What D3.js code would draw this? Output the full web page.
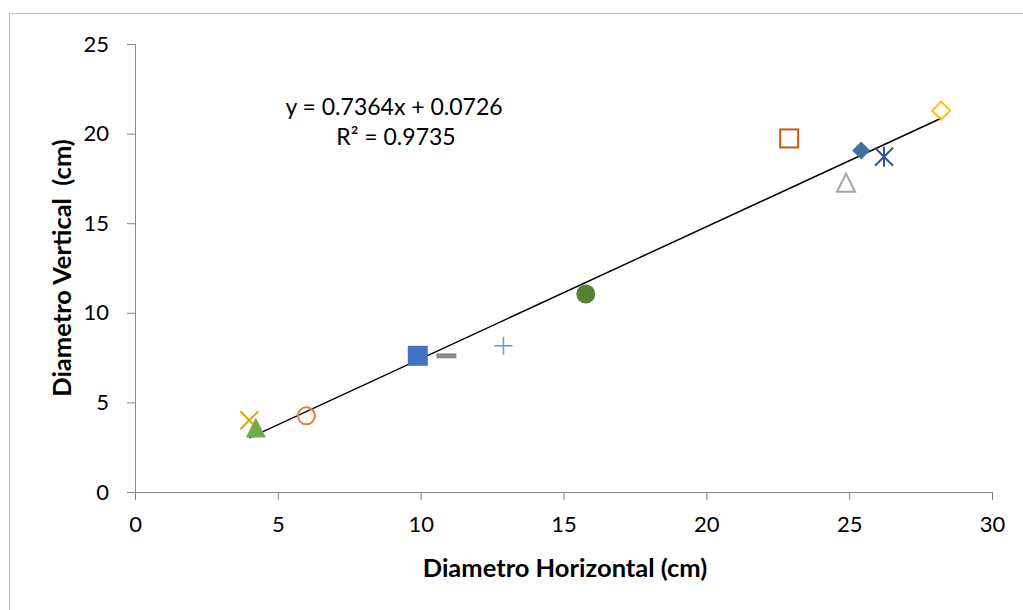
<!DOCTYPE html>
<html>
<head>
<meta charset="utf-8">
<script src="https://cdn.jsdelivr.net/npm/d3@7"></script>
<style>
  body { margin: 0; background: #fff; }
  text { font-family: Lato, "Open Sans", sans-serif; fill: #000; }
</style>
</head>
<body>
<div id="chart"></div>
<script>
// data
const xValues = [4.0, 4.23, 6.0, 9.9, 10.9, 12.9, 15.78, 22.9, 24.89, 25.42, 26.22, 28.22];
const yValues = [4.0, 3.6, 4.25, 7.6, 7.6, 8.16, 11.05, 19.73, 17.26, 19.05, 18.71, 21.28];
const markerKinds = ["x", "triangle", "circleOpen", "square", "dash", "plus", "circle", "squareOpen", "triangleOpen", "diamond", "star", "diamondOpen"];
const markerColors = ["#D9A20F", "#70AD47", "#ED7D31", "#4472C4", "#8C8C8C", "#5B9BD5", "#548235", "#C55A11", "#A5A5A5", "#41719C", "#2F5597", "#FFC000"];
const xTicks = [0, 5, 10, 15, 20, 25, 30];
const yTicks = [0, 5, 10, 15, 20, 25];
const slope = 0.7364, intercept = 0.0726;
const equationLines = ["y = 0.7364x + 0.0726", "R² = 0.9735"];

const svgWidth = 1023, svgHeight = 610;
const margin = {top: 44, right: 31, bottom: 118, left: 135};
const width = svgWidth - margin.left - margin.right;
const height = svgHeight - margin.top - margin.bottom;

const svg = d3.select("#chart").append("svg")
  .attr("width", svgWidth)
  .attr("height", svgHeight);

// outer chart border
svg.append("rect")
  .attr("x", 9.5).attr("y", 13.5)
  .attr("width", 1100).attr("height", 700)
  .attr("fill", "none").attr("stroke", "#BFBFBF");

const g = svg.append("g").attr("transform", `translate(${margin.left},${margin.top})`);

const x = d3.scaleLinear().domain([0, 30]).range([0, width]);
const y = d3.scaleLinear().domain([0, 25]).range([height, 0]);

const xAxis = g.append("g")
  .attr("transform", `translate(0,${height})`)
  .call(d3.axisBottom(x).tickValues(xTicks).tickSize(8).tickPadding(16).tickSizeOuter(8));
const yAxis = g.append("g")
  .call(d3.axisLeft(y).tickValues(yTicks).tickSize(8).tickPadding(18).tickSizeOuter(8));

[xAxis, yAxis].forEach(a => {
  a.selectAll("path, line").attr("stroke", "#868686");
  a.selectAll("text").style("font-size", "22px").attr("fill", "#000");
});

// trendline over data range
const xMin = d3.min(xValues), xMax = d3.max(xValues);
g.append("line")
  .attr("x1", x(xMin)).attr("y1", y(slope * xMin + intercept))
  .attr("x2", x(xMax)).attr("y2", y(slope * xMax + intercept))
  .attr("stroke", "#000").attr("stroke-width", 1.5);

// markers
const pts = xValues.map((v, i) => ({x: v, y: yValues[i], kind: markerKinds[i], color: markerColors[i]}));
pts.forEach(p => {
  const m = g.append("g").attr("transform", `translate(${x(p.x)},${y(p.y)})`);
  const c = p.color;
  switch (p.kind) {
    case "x":
      m.append("path").attr("d", "M-9,-9L9,9M-9,9L9,-9").attr("stroke", c).attr("stroke-width", 2);
      break;
    case "triangle":
      m.append("path").attr("d", "M0,-10L10,10L-10,10Z").attr("fill", c);
      break;
    case "triangleOpen":
      m.append("path").attr("d", "M0,-9L9,9L-9,9Z").attr("fill", "none").attr("stroke", c).attr("stroke-width", 2);
      break;
    case "circleOpen":
      m.append("circle").attr("r", 8.5).attr("fill", "none").attr("stroke", c).attr("stroke-width", 2);
      break;
    case "circle":
      m.append("circle").attr("r", 9.5).attr("fill", c);
      break;
    case "square":
      m.append("rect").attr("x", -10).attr("y", -10).attr("width", 20).attr("height", 20).attr("fill", c);
      break;
    case "squareOpen":
      m.append("rect").attr("x", -9).attr("y", -9).attr("width", 18).attr("height", 18).attr("fill", "none").attr("stroke", c).attr("stroke-width", 2);
      break;
    case "dash":
      m.append("rect").attr("x", -10).attr("y", -2.5).attr("width", 20).attr("height", 5).attr("fill", c);
      break;
    case "plus":
      m.append("path").attr("d", "M-9,0L9,0M0,-9L0,9").attr("stroke", c).attr("stroke-width", 1.5);
      break;
    case "diamond":
      m.append("path").attr("d", "M0,-9L9,0L0,9L-9,0Z").attr("fill", c);
      break;
    case "diamondOpen":
      m.append("path").attr("d", "M0,-9L9,0L0,9L-9,0Z").attr("fill", "none").attr("stroke", c).attr("stroke-width", 2);
      break;
    case "star":
      m.append("path").attr("d", "M-9,-9L9,9M-9,9L9,-9M0,-10L0,10").attr("stroke", c).attr("stroke-width", 2);
      break;
  }
});

// regression equation
g.append("text")
  .attr("x", 394 - margin.left).attr("y", 115 - margin.top)
  .attr("text-anchor", "middle").style("font-size", "23px")
  .text(equationLines[0]);
g.append("text")
  .attr("x", 396 - margin.left).attr("y", 145 - margin.top)
  .attr("text-anchor", "middle").style("font-size", "23px")
  .text(equationLines[1]);

// axis titles
svg.append("text")
  .attr("x", 565).attr("y", 577)
  .attr("text-anchor", "middle")
  .style("font-size", "25.5px").style("font-weight", "bold")
  .text("Diametro Horizontal (cm)");

svg.append("text")
  .attr("transform", "translate(71,268) rotate(-90)")
  .attr("text-anchor", "middle")
  .style("font-size", "25.5px").style("font-weight", "bold")
  .style("white-space", "pre")
  .text("Diametro Vertical  (cm)");
</script>
</body>
</html>
